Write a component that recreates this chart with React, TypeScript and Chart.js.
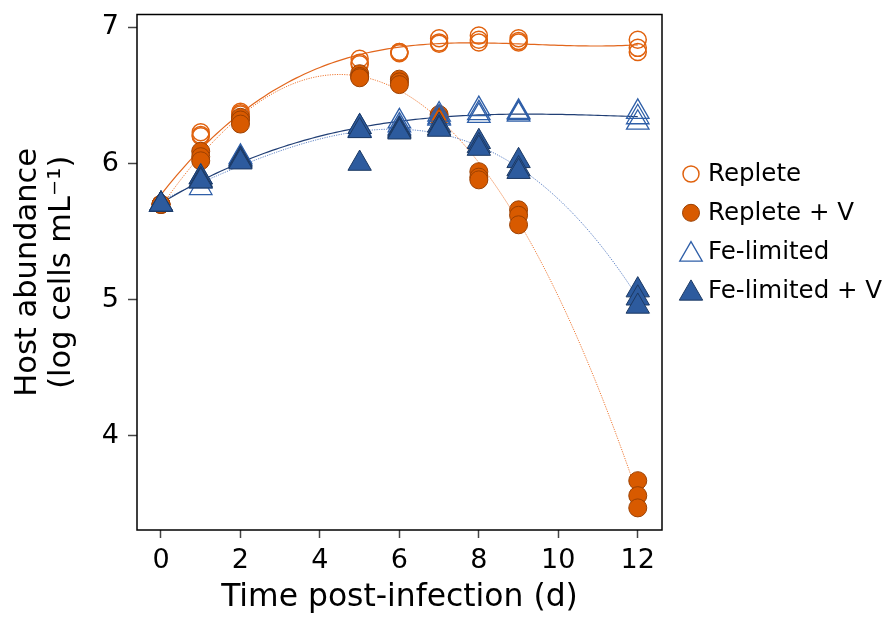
import React, { useEffect, useRef } from "react";
import { Chart, registerables } from "chart.js";

Chart.register(...registerables);

// ---------- data (log cells mL^-1), three replicates per treatment ----------
const days = [0, 1, 2, 5, 6, 7, 8, 9, 12];

const repleteRep1 = [5.70, 6.23, 6.38, 6.77, 6.82, 6.92, 6.94, 6.92, 6.91];
const repleteRep2 = [5.70, 6.21, 6.37, 6.74, 6.82, 6.89, 6.91, 6.90, 6.85];
const repleteRep3 = [5.70, 6.20, 6.36, 6.73, 6.81, 6.88, 6.89, 6.89, 6.82];

const repleteVRep1 = [5.70, 6.09, 6.34, 6.66, 6.62, 6.36, 5.94, 5.66, 3.67];
const repleteVRep2 = [5.70, 6.05, 6.32, 6.64, 6.60, 6.34, 5.90, 5.62, 3.56];
const repleteVRep3 = [5.70, 6.02, 6.29, 6.63, 6.58, 6.33, 5.88, 5.55, 3.47];

const feRep1 = [5.70, 5.82, 6.04, 6.27, 6.31, 6.36, 6.40, 6.38, 6.38];
const feRep2 = [5.70, 5.87, 6.03, 6.25, 6.28, 6.34, 6.37, 6.37, 6.34];
const feRep3 = [5.70, 5.90, 6.05, 6.24, 6.26, 6.33, 6.35, 6.36, 6.30];

const feVRep1 = [5.70, 5.90, 6.03, 6.27, 6.25, 6.28, 6.16, 6.02, 5.07];
const feVRep2 = [5.70, 5.88, 6.02, 6.24, 6.24, 6.26, 6.13, 5.96, 5.01];
const feVRep3 = [5.70, 5.87, 6.01, 6.00, 6.23, 6.25, 6.11, 5.94, 4.95];

const xTicks = [0, 2, 4, 6, 8, 10, 12];
const yTicks = [4, 5, 6, 7];
const seriesLabels = ["Replete", "Replete + V", "Fe-limited", "Fe-limited + V"];
const xTitle = "Time post-infection (d)";
const yTitle = ["Host abundance", "(log cells mL\u207B\u00B9)"];

// ---------- styles ----------
const ORANGE = "#D85A00";
const ORANGE_DARK = "#9C4000";
const ORANGE_OPEN = "#E0620E";
const BLUE = "#2D5B9E";
const BLUE_DARK = "#1C3963";
const BLUE_OPEN = "#2F5FA8";
const FONT = "'DejaVu Sans', Verdana, sans-serif";

type Pt = { x: number; y: number };

function toPoints(reps: number[][]): Pt[] {
  const pts: Pt[] = [];
  reps.forEach((r) => r.forEach((v, i) => pts.push({ x: days[i], y: v })));
  return pts;
}

// least-squares cubic trend computed from the replicate data
function polyFit(pts: Pt[], deg: number): number[] {
  const n = deg + 1;
  const A: number[][] = Array.from({ length: n }, () => Array(n + 1).fill(0));
  pts.forEach(({ x, y }) => {
    for (let i = 0; i < n; i++) {
      for (let j = 0; j < n; j++) A[i][j] += Math.pow(x, i + j);
      A[i][n] += y * Math.pow(x, i);
    }
  });
  for (let i = 0; i < n; i++) {
    let p = i;
    for (let r = i + 1; r < n; r++) if (Math.abs(A[r][i]) > Math.abs(A[p][i])) p = r;
    const tmp = A[i]; A[i] = A[p]; A[p] = tmp;
    for (let r = 0; r < n; r++) {
      if (r === i) continue;
      const f = A[r][i] / A[i][i];
      for (let c = i; c <= n; c++) A[r][c] -= f * A[i][c];
    }
  }
  return A.map((row, i) => row[n] / row[i]);
}

function fitCurve(pts: Pt[]): Pt[] {
  const coef = polyFit(pts, 3);
  const t0 = days[0];
  const t1 = days[days.length - 1];
  const steps = 120;
  const out: Pt[] = [];
  for (let k = 0; k <= steps; k++) {
    const t = t0 + ((t1 - t0) * k) / steps;
    out.push({ x: t, y: coef.reduce((s, c, i) => s + c * Math.pow(t, i), 0) });
  }
  return out;
}

const legendMarkers = [
  { style: "circle", r: 8, fill: "rgba(0,0,0,0)", stroke: ORANGE_OPEN, lw: 1.5 },
  { style: "circle", r: 8.5, fill: ORANGE, stroke: ORANGE_DARK, lw: 1 },
  { style: "triangle", r: 13, fill: "rgba(0,0,0,0)", stroke: BLUE_OPEN, lw: 1.3 },
  { style: "triangle", r: 13.5, fill: BLUE, stroke: BLUE_DARK, lw: 1 },
];

const framePlugin = {
  id: "frame",
  afterDatasetsDraw(chart: any) {
    const { ctx, chartArea } = chart;
    const { left, top, right, bottom } = chartArea;
    ctx.save();
    ctx.strokeStyle = "#000";
    ctx.lineWidth = 1.5;
    ctx.strokeRect(left, top, right - left, bottom - top);
    ctx.restore();
  },
};

const textPlugin = {
  id: "sideLegendAndTitle",
  afterDraw(chart: any) {
    const { ctx, chartArea } = chart;
    const mx = chartArea.right + 29;
    const tx = chartArea.right + 46;
    const y0 = 174;
    const gap = 38.8;
    ctx.save();
    seriesLabels.forEach((label, i) => {
      const m = legendMarkers[i];
      const y = y0 + gap * i;
      ctx.beginPath();
      if (m.style === "circle") {
        ctx.arc(mx, y, m.r, 0, Math.PI * 2);
      } else {
        const cy = y + 3;
        ctx.moveTo(mx, cy - m.r);
        ctx.lineTo(mx + (Math.sqrt(3) / 2) * m.r, cy + m.r / 2);
        ctx.lineTo(mx - (Math.sqrt(3) / 2) * m.r, cy + m.r / 2);
        ctx.closePath();
      }
      ctx.fillStyle = m.fill;
      ctx.fill();
      ctx.lineWidth = m.lw;
      ctx.strokeStyle = m.stroke;
      ctx.stroke();
      ctx.fillStyle = "#000";
      ctx.font = `24.5px ${FONT}`;
      ctx.textAlign = "left";
      ctx.textBaseline = "middle";
      ctx.fillText(label, tx, y + 1);
    });
    // x-axis title, centred under the plot area
    ctx.font = `31.4px ${FONT}`;
    ctx.textAlign = "center";
    ctx.textBaseline = "alphabetic";
    ctx.fillText(xTitle, (chartArea.left + chartArea.right) / 2, 605.5);
    ctx.restore();
  },
};

export default function App() {
  const ref = useRef<HTMLCanvasElement | null>(null);

  useEffect(() => {
    document.body.style.margin = "0";
    const canvas = ref.current;
    if (!canvas) return;

    const replete = toPoints([repleteRep1, repleteRep2, repleteRep3]);
    const repleteV = toPoints([repleteVRep1, repleteVRep2, repleteVRep3]);
    const fe = toPoints([feRep1, feRep2, feRep3]);
    const feV = toPoints([feVRep1, feVRep2, feVRep3]);

    const lineBase = { showLine: true, pointRadius: 0, pointHoverRadius: 0, fill: false, tension: 0 };

    const chart = new Chart(canvas, {
      type: "scatter",
      data: {
        datasets: [
          { ...lineBase, label: "fit-replete", data: fitCurve(replete), borderColor: "#E2661C", borderWidth: 1.2, order: 10 },
          { ...lineBase, label: "fit-repleteV", data: fitCurve(repleteV), borderColor: "#EE7A36", borderWidth: 1, borderDash: [1.2, 1.2], order: 10 },
          { ...lineBase, label: "fit-fe", data: fitCurve(fe), borderColor: "#213F75", borderWidth: 1.2, order: 10 },
          { ...lineBase, label: "fit-feV", data: fitCurve(feV), borderColor: "#5E82C4", borderWidth: 1, borderDash: [1.2, 1.2], order: 10 },
          {
            label: seriesLabels[0], data: replete, pointStyle: "circle", pointRadius: 8.5,
            backgroundColor: "rgba(0,0,0,0)", borderColor: ORANGE_OPEN, borderWidth: 1.5, order: 4,
          },
          {
            label: seriesLabels[1], data: repleteV, pointStyle: "circle", pointRadius: 9,
            backgroundColor: ORANGE, borderColor: ORANGE_DARK, borderWidth: 1, order: 3,
          },
          {
            label: seriesLabels[2], data: fe, pointStyle: "triangle", pointRadius: 13,
            backgroundColor: "rgba(255,255,255,0)", borderColor: BLUE_OPEN, borderWidth: 1.3, order: 2,
          },
          {
            label: seriesLabels[3], data: feV, pointStyle: "triangle", pointRadius: 13.5,
            backgroundColor: BLUE, borderColor: BLUE_DARK, borderWidth: 1, order: 1,
          },
        ] as any,
      },
      options: {
        animation: false,
        responsive: false,
        events: [],
        layout: { padding: { top: 12, right: 225, left: 0, bottom: 0 } },
        plugins: { legend: { display: false }, tooltip: { enabled: false } },
        scales: {
          x: {
            type: "linear",
            min: -0.604,
            max: 12.61,
            afterFit: (s: any) => { s.height = 87; s.paddingLeft = 0; s.paddingRight = 0; },
            afterBuildTicks: (s: any) => { s.ticks = xTicks.map((v) => ({ value: v })); },
            grid: { display: true, drawOnChartArea: false, drawTicks: true, tickLength: 8, tickWidth: 1.5, tickColor: "#444" },
            border: { display: false },
            ticks: { color: "#000", font: { family: FONT, size: 27, lineHeight: 1.2 }, padding: 6.5, maxRotation: 0, autoSkip: false },
            title: { display: false },
          },
          y: {
            type: "linear",
            min: 3.3075,
            max: 7.095,
            afterFit: (s: any) => { s.width = 137; s.paddingTop = 0; s.paddingBottom = 0; },
            afterBuildTicks: (s: any) => { s.ticks = yTicks.map((v) => ({ value: v })); },
            grid: { display: true, drawOnChartArea: false, drawTicks: true, tickLength: 9, tickWidth: 1.5, tickColor: "#444" },
            border: { display: false },
            ticks: { color: "#000", font: { family: FONT, size: 27 }, padding: 9, autoSkip: false },
            title: { display: true, text: yTitle, color: "#000", font: { family: FONT, size: 30.5, lineHeight: 1.14 }, padding: { top: 10.2, bottom: 0 } },
          },
        },
      } as any,
      plugins: [framePlugin, textPlugin],
    });

    return () => chart.destroy();
  }, []);

  return (
    <div style={{ position: "absolute", left: 0, top: 0, width: 887, height: 617, background: "#fff" }}>
      <canvas ref={ref} width={887} height={617} style={{ display: "block" }} />
    </div>
  );
}
